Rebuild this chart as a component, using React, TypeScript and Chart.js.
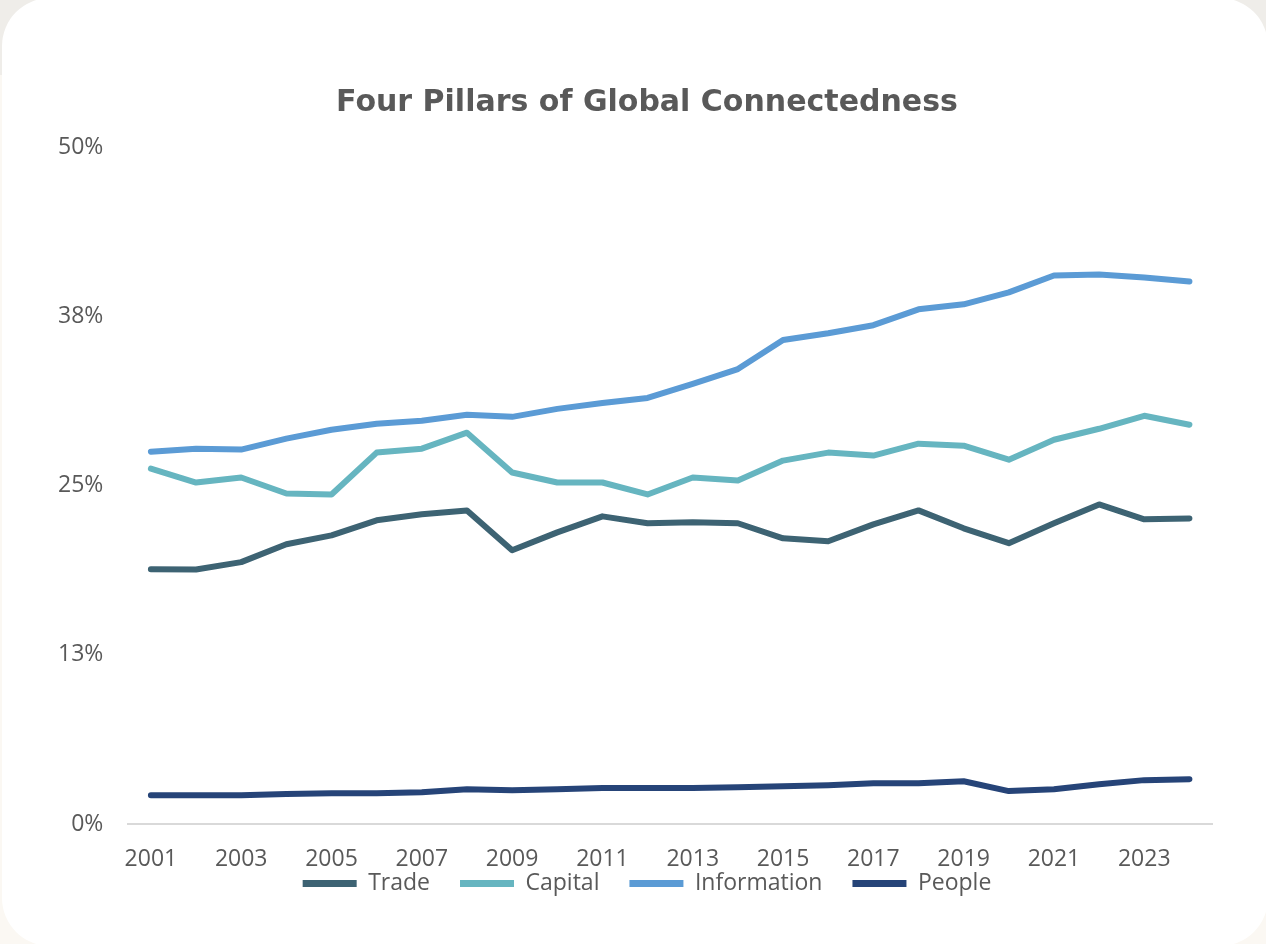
import React, { useEffect, useRef } from "react";
import { Chart, registerables } from "chart.js";

Chart.register(...registerables);

const years = [
  "2001", "2002", "2003", "2004", "2005", "2006", "2007", "2008", "2009", "2010", "2011", "2012",
  "2013", "2014", "2015", "2016", "2017", "2018", "2019", "2020", "2021", "2022", "2023", "2024",
];

const trade = [
  18.82, 18.8, 19.34, 20.66, 21.32, 22.43, 22.87, 23.16, 20.22, 21.54, 22.72, 22.21,
  22.28, 22.21, 21.1, 20.88, 22.13, 23.16, 21.84, 20.74, 22.21, 23.6, 22.5, 22.57,
];

const capital = [
  26.25, 25.22, 25.59, 24.41, 24.34, 27.43, 27.72, 28.9, 25.96, 25.22, 25.22, 24.34,
  25.59, 25.37, 26.84, 27.43, 27.21, 28.09, 27.94, 26.91, 28.38, 29.19, 30.15, 29.49,
];

const information = [
  27.5, 27.72, 27.65, 28.46, 29.12, 29.56, 29.78, 30.22, 30.07, 30.66, 31.1, 31.47,
  32.5, 33.6, 35.74, 36.25, 36.84, 38.01, 38.38, 39.26, 40.51, 40.59, 40.37, 40.07,
];

const people = [
  2.13, 2.13, 2.13, 2.21, 2.28, 2.28, 2.35, 2.57, 2.5, 2.57, 2.65, 2.65,
  2.65, 2.72, 2.79, 2.87, 3.01, 3.01, 3.16, 2.43, 2.57, 2.94, 3.24, 3.31,
];

const seriesNames = ["Trade", "Capital", "Information", "People"];
const seriesColors = ["#3d6373", "#66b5c0", "#5b9bd5", "#264478"];
const yTicks = [0, 12.5, 25, 37.5, 50];

const FONT = "'Open Sans', 'Noto Sans', sans-serif";
const TITLE_FONT = "'DejaVu Sans', 'Open Sans', sans-serif";
const TEXT = "#595959";

export default function App() {
  const ref = useRef<HTMLCanvasElement | null>(null);

  useEffect(() => {
    document.body.style.margin = "0";
    const canvas = ref.current;
    if (!canvas) return;
    const values = [trade, capital, information, people];
    const chart = new Chart(canvas, {
      type: "line",
      data: {
        labels: years,
        datasets: values.map((d, i) => ({
          label: seriesNames[i],
          data: d,
          borderColor: seriesColors[i],
          backgroundColor: seriesColors[i],
          borderWidth: 6,
          pointRadius: 0,
          pointHoverRadius: 0,
          tension: 0,
          borderCapStyle: "round" as const,
          borderJoinStyle: "round" as const,
          fill: false,
          yAxisID: "y",
        })),
      },
      options: {
        animation: false,
        responsive: false,
        maintainAspectRatio: false,
        layout: { padding: { left: 31, right: 7, top: 87, bottom: 41 } },
        plugins: {
          tooltip: { enabled: false },
          title: {
            display: true,
            text: "Four Pillars of Global Connectedness",
            color: TEXT,
            font: { family: TITLE_FONT, size: 30, weight: "bold" },
            padding: { top: 0, bottom: 26 },
          },
          legend: {
            display: true,
            position: "bottom",
            labels: {
              color: TEXT,
              font: { family: FONT, size: 23 },
              boxWidth: 54,
              boxHeight: 7,
              useBorderRadius: true,
              borderRadius: 3.5,
              padding: 30,
              generateLabels: (c: any) =>
                c.data.datasets.map((ds: any, i: number) => ({
                  text: ds.label,
                  fillStyle: seriesColors[i],
                  strokeStyle: seriesColors[i],
                  lineWidth: 0,
                  fontColor: TEXT,
                  datasetIndex: i,
                  hidden: false,
                })),
            },
          },
        },
        scales: {
          x: {
            offset: true,
            grid: { display: false, drawTicks: false },
            border: { display: true, color: "#d9d9d9", width: 2 },
            afterFit: (s: any) => {
              s.height = 18;
              s._computeLabelArea = () => undefined;
            },
            ticks: {
              color: TEXT,
              font: { family: FONT, size: 23 },
              autoSkip: false,
              maxRotation: 0,
              padding: 22,
              callback: (_v: any, i: number) => (i % 2 === 0 ? years[i] : ""),
            },
          },
          y: {
            min: 0,
            max: 50,
            grid: { display: false, drawTicks: false },
            border: { display: false },
            afterBuildTicks: (s: any) => {
              s.ticks = yTicks.map((v) => ({ value: v }));
            },
            ticks: {
              color: TEXT,
              font: { family: FONT, size: 23 },
              padding: 25,
              callback: (v: any) => Math.round(Number(v)) + "%",
            },
          },
          yR: {
            position: "right",
            min: 0,
            max: 1,
            grid: { display: false, drawTicks: false },
            border: { display: false },
            ticks: { display: false },
            afterFit: (s: any) => {
              s.width = 49;
            },
          },
        },
      },
    });
    return () => chart.destroy();
  }, []);

  return (
    <div
      style={{
        position: "fixed",
        inset: 0,
        background: "linear-gradient(#efede9 0px, #efede9 75px, #fbf8f3 75px, #fbf8f3 100%)",
        overflow: "hidden",
      }}
    >
      <div
        style={{
          position: "absolute",
          left: 2,
          top: -2,
          width: 1266,
          height: 948,
          borderRadius: 48,
          background: "#ffffff",
          overflow: "hidden",
        }}
      >
        <canvas ref={ref} width={1266} height={948} style={{ display: "block" }} />
      </div>
    </div>
  );
}
